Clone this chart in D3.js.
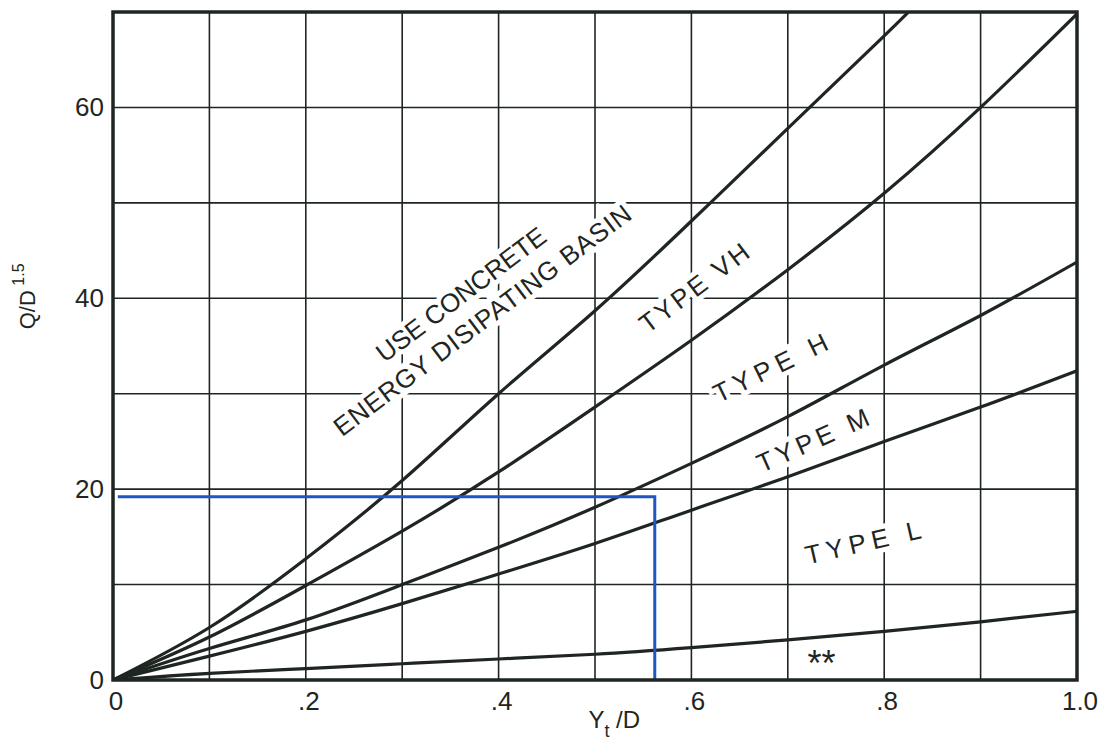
<!DOCTYPE html>
<html lang="en">
<head>
    <meta charset="UTF-8">
    <title>Riprap basin type chart</title>
    <style>
        body { margin: 0; background: #fff; }
        text { font-family: "Liberation Sans", "DejaVu Sans", sans-serif; fill: #1f2622; }
    </style>
</head>
<body>
<div id="chart"></div>

<script src="https://d3js.org/d3.v7.min.js"></script>

<script>
    // Values (x = Yt/D, y = Q/D^1.5)
    var ytGrid = [0, .1, .2, .3, .4, .5, .6, .7, .8, .9, 1.0];
    var basinX = [0, .1, .2, .3, .4, .5, .6, .7, .8, .825];
    var basinLimit = [0, 5.5, 12.7, 20.9, 30.0, 38.7, 48.1, 57.8, 67.5, 70];
    var typeVH = [0, 4.5, 9.9, 15.6, 21.8, 28.6, 35.6, 43.0, 51.0, 60.0, 69.8];
    var typeH = [0, 3.3, 6.3, 10.0, 13.9, 18.1, 22.7, 27.6, 33.0, 38.2, 43.8];
    var typeM = [0, 2.5, 5.1, 8.0, 11.1, 14.3, 17.8, 21.3, 25.0, 28.6, 32.4];
    var typeL = [0, 0.7, 1.2, 1.7, 2.2, 2.7, 3.4, 4.2, 5.1, 6.1, 7.2];

    var xTicks = [0, .2, .4, .6, .8, 1.0];
    var xTickLabels = ["0", ".2", ".4", ".6", ".8", "1.0"];
    var yTicks = [0, 20, 40, 60];

    // blue reading line: Q/D^1.5 = 19.2 -> Yt/D = 0.562
    var readX = [0.005, 0.562, 0.562];
    var readY = [19.2, 19.2, 0];

    // region labels: text, x, y, angle, length
    var labelText = ["USE  CONCRETE", "ENERGY  DISIPATING  BASIN", "TYPE  VH", "TYPE  H", "TYPE  M", "TYPE  L"];
    var labelX = [0.361, 0.383, 0.603, 0.682, 0.726, 0.778];
    var labelY = [40.4, 37.7, 41.1, 32.7, 25.1, 14.4];
    var labelAngle = [-37, -37, -37, -26, -24, -13];
    var labelLen = [205, 365, 130, 124, 120, 118];

    var vp = {width: 964, height: 668};
    var margin = {top: 12, right: 33, bottom: 62, left: 113};
    var ink = "#1f2622";

    var svg = d3.select("#chart").append("svg")
        .attr("width", vp.width + margin.left + margin.right)
        .attr("height", vp.height + margin.top + margin.bottom)
        .append("g")
        .attr("transform", "translate(" + margin.left + "," + margin.top + ")");

    var x = d3.scaleLinear().domain([0, 1]).range([0, vp.width]);
    var y = d3.scaleLinear().domain([0, 70]).range([vp.height, 0]);

    // grid
    svg.append("g").selectAll("line.v")
        .data(ytGrid)
        .enter().append("line")
        .attr("x1", d => x(d)).attr("x2", d => x(d))
        .attr("y1", 0).attr("y2", vp.height)
        .attr("stroke", ink).attr("stroke-width", 1.6);

    svg.append("g").selectAll("line.h")
        .data(d3.range(0, 71, 10))
        .enter().append("line")
        .attr("x1", 0).attr("x2", vp.width)
        .attr("y1", d => y(d)).attr("y2", d => y(d))
        .attr("stroke", ink).attr("stroke-width", 1.6);

    // labels: white halos first (grid breaks around them), then the text
    function drawLabels(halo) {
        svg.append("g").selectAll("text")
            .data(labelText)
            .enter().append("text")
            .attr("transform", (d, i) => "translate(" + x(labelX[i]) + "," + y(labelY[i]) + ") rotate(" + labelAngle[i] + ")")
            .attr("text-anchor", "middle")
            .attr("dominant-baseline", "central")
            .attr("textLength", (d, i) => labelLen[i])
            .attr("lengthAdjust", "spacing")
            .style("font-size", "26px")
            .style("fill", halo ? "#fff" : ink)
            .style("stroke", halo ? "#fff" : "none")
            .style("stroke-width", halo ? 10 : 0)
            .text(d => d);
    }
    drawLabels(true);
    drawLabels(false);

    svg.append("text")
        .attr("x", x(0.735)).attr("y", y(1.7))
        .attr("text-anchor", "middle")
        .attr("dominant-baseline", "central")
        .style("font-size", "36px")
        .text("**");

    // curves
    svg.append("clipPath").attr("id", "plot")
        .append("rect").attr("width", vp.width).attr("height", vp.height);

    var line = d3.line()
        .x(d => x(d[0]))
        .y(d => y(d[1]))
        .curve(d3.curveNatural);

    var curves = [
        d3.zip(basinX, basinLimit),
        d3.zip(ytGrid, typeVH),
        d3.zip(ytGrid, typeH),
        d3.zip(ytGrid, typeM),
        d3.zip(ytGrid, typeL)
    ];

    svg.append("g").attr("clip-path", "url(#plot)")
        .selectAll("path")
        .data(curves)
        .enter().append("path")
        .attr("d", line)
        .attr("fill", "none")
        .attr("stroke", ink)
        .attr("stroke-width", 3.2);

    // blue reading line
    svg.append("path")
        .attr("d", d3.line().x(d => x(d[0])).y(d => y(d[1]))(d3.zip(readX, readY)))
        .attr("fill", "none")
        .attr("stroke", "#1f56c2")
        .attr("stroke-width", 3);

    // border
    svg.append("rect")
        .attr("width", vp.width).attr("height", vp.height)
        .attr("fill", "none")
        .attr("stroke", ink)
        .attr("stroke-width", 3.5);

    // tick labels
    svg.append("g").selectAll("text")
        .data(xTicks)
        .enter().append("text")
        .attr("x", d => x(d) + 3)
        .attr("y", vp.height + 30)
        .attr("text-anchor", "middle")
        .style("font-size", "26px")
        .text((d, i) => xTickLabels[i]);

    svg.append("g").selectAll("text")
        .data(yTicks)
        .enter().append("text")
        .attr("x", -9)
        .attr("y", d => y(d))
        .attr("text-anchor", "end")
        .attr("dominant-baseline", "central")
        .style("font-size", "26px")
        .text(d => d);

    // axis titles
    var xt = svg.append("text")
        .attr("x", x(0.52))
        .attr("y", vp.height + 48)
        .attr("text-anchor", "middle")
        .style("font-size", "24px");
    xt.append("tspan").text("Y");
    xt.append("tspan").attr("dy", 9).style("font-size", "18px").text("t");
    xt.append("tspan").attr("dy", -9).text(" /D");

    var yt = svg.append("text")
        .attr("transform", "translate(" + (-78) + "," + y(40.2) + ") rotate(-90)")
        .attr("text-anchor", "middle")
        .style("font-size", "22px");
    yt.append("tspan").text("Q/D");
    yt.append("tspan").attr("dy", -11).style("font-size", "16px").text(" 1.5");
</script>

</body>
</html>
